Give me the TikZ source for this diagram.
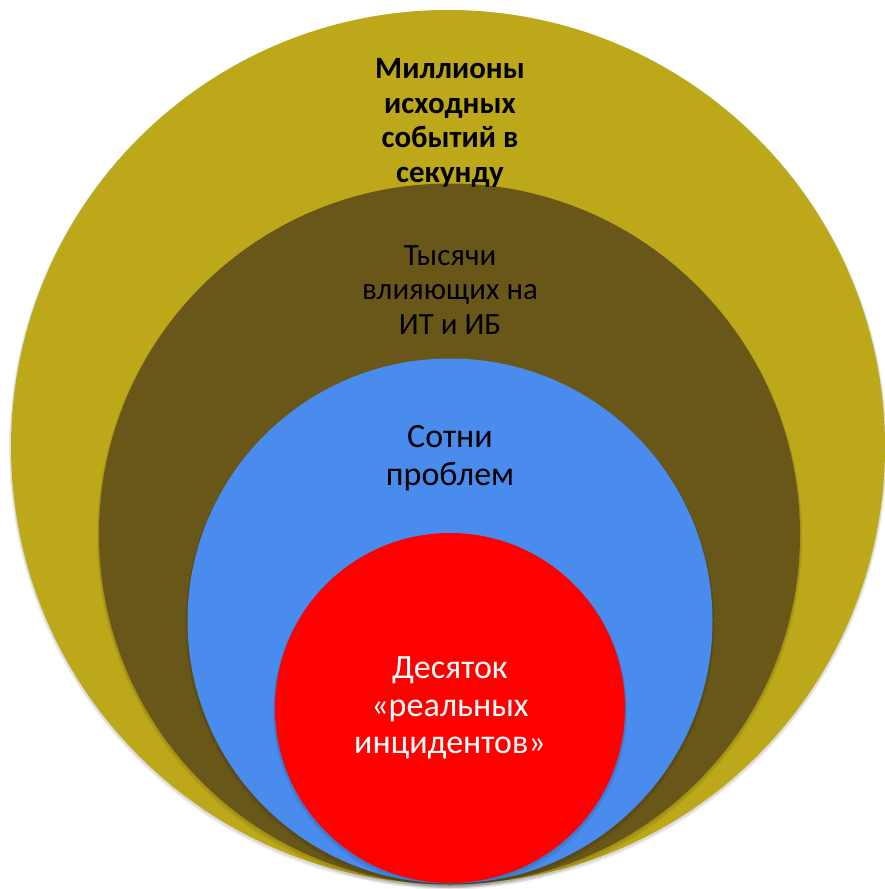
\documentclass[tikz,border=0pt]{standalone}
\usepackage{fontspec}
\setmainfont{Carlito}
\usetikzlibrary{positioning}

\definecolor{olivegold}{RGB}{188,168,24}
\definecolor{darkolive}{RGB}{104,87,24}
\definecolor{skyblue}{RGB}{74,139,238}
\definecolor{brightred}{RGB}{255,0,0}

\begin{document}
\begin{tikzpicture}[x=0.75pt,y=-0.75pt]
            \tikzset{disc/.style={circle,inner sep=0pt,draw=none},
                     halo/.style={circle,inner sep=0pt,draw=none,fill=black,fill opacity=0.07},
                     lbl/.style={align=center,inner sep=0pt},
                     smalltxt/.style={font=\fontsize{23.2pt}{25.9pt}\selectfont},
                     boldtxt/.style={font=\fontsize{23.2pt}{25.9pt}\selectfont\bfseries},
                     bigtxt/.style={font=\fontsize{25.5pt}{28.2pt}\selectfont}}
            \useasboundingbox (0,0) rectangle (885,889);

            \node[halo,minimum size=878*0.75pt] (s1) at (448,449) {};
            \node[halo,minimum size=876*0.75pt] (s2) at (448,448.5) {};
            \node[disc,fill=olivegold,minimum size=874*0.75pt] (millions) at (448,447) {};

            \node[halo,minimum size=705*0.75pt] (s3) at (449.5,537) {};
            \node[halo,minimum size=703*0.75pt] (s4) at (449.5,535.5) {};
            \node[disc,fill=darkolive,minimum size=701*0.75pt] (thousands) at (449.5,534) {};

            \node[halo,minimum size=529*0.75pt] (s5) at (450,624) {};
            \node[halo,minimum size=527*0.75pt] (s6) at (450,622.5) {};
            \node[disc,fill=skyblue,minimum size=525*0.75pt] (hundreds) at (450,621) {};

            \node[halo,minimum size=354*0.75pt] (s7) at (450,711) {};
            \node[halo,minimum size=352*0.75pt] (s8) at (450,709.5) {};
            \node[disc,fill=brightred,minimum size=350*0.75pt] (tens) at (450,708) {};

            \node[lbl,boldtxt] (tmillions) at (450,123) {Миллионы\\исходных\\событий в\\секунду};
            \node[lbl,smalltxt] (tthousands) at (450,290) {Тысячи\\влияющих на\\ИТ и ИБ};
            \node[lbl,bigtxt] (thundreds) at (450,458) {Сотни\\проблем};
            \node[lbl,bigtxt,text=white] (ttens) at (450,708) {Десяток\\«реальных\\инцидентов»};
\end{tikzpicture}
\end{document}
